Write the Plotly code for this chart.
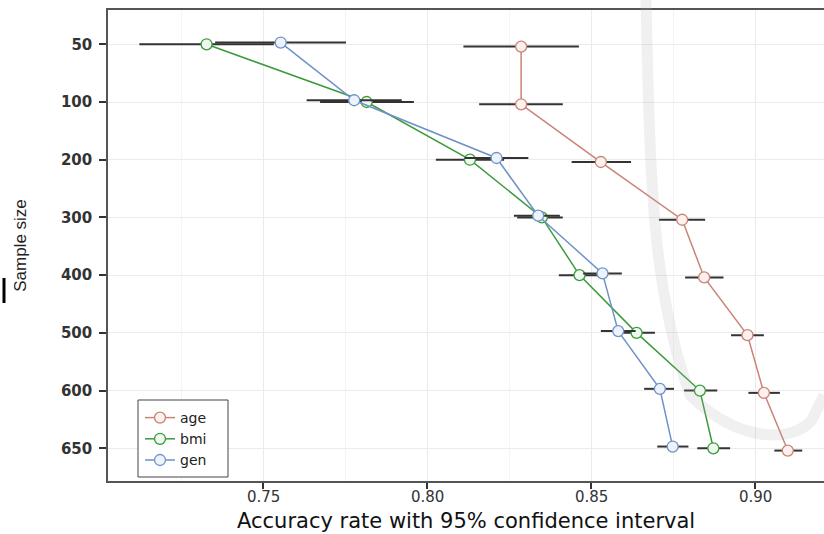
import plotly.graph_objects as go

# ---- data ----
sample_sizes = ["50", "100", "200", "300", "400", "500", "600", "650"]

age_acc = [0.8287, 0.8287, 0.8530, 0.8778, 0.8845, 0.8977, 0.9027, 0.9100]
age_lo = [0.8111, 0.8159, 0.8441, 0.8707, 0.8787, 0.8927, 0.8980, 0.9059]
age_hi = [0.8463, 0.8414, 0.8622, 0.8848, 0.8904, 0.9027, 0.9076, 0.9144]

bmi_acc = [0.7328, 0.7816, 0.8131, 0.8350, 0.8465, 0.8639, 0.8832, 0.8873]
bmi_lo = [0.7123, 0.7674, 0.8027, 0.8275, 0.8402, 0.8583, 0.8784, 0.8824]
bmi_hi = [0.7533, 0.7960, 0.8235, 0.8414, 0.8528, 0.8695, 0.8885, 0.8924]

gen_acc = [0.7554, 0.7778, 0.8212, 0.8339, 0.8535, 0.8583, 0.8710, 0.8749]
gen_lo = [0.7354, 0.7633, 0.8115, 0.8265, 0.8476, 0.8530, 0.8662, 0.8702]
gen_hi = [0.7753, 0.7923, 0.8309, 0.8405, 0.8594, 0.8636, 0.8753, 0.8797]

x_ticks = [0.75, 0.80, 0.85, 0.90]
x_tick_labels = ["0.75", "0.80", "0.85", "0.90"]

series = [
    ("age", age_acc, age_lo, age_hi, "#C98476", "#FCF1EE", 0.04),
    ("bmi", bmi_acc, bmi_lo, bmi_hi, "#3C9A3C", "#EEF8EE", 0.0),
    ("gen", gen_acc, gen_lo, gen_hi, "#6F93C8", "#EEF3FB", -0.03),
]

W, H = 824, 534
L, R, T, B = 108, 824, 10, 481


def px(x):
    return (x - L) / (R - L)


def py(y):
    return (B - y) / (B - T)


fig = go.Figure()
for name, acc, lo, hi, col, fill, dodge in series:
    ys = [i + dodge for i in range(len(sample_sizes))]
    fig.add_trace(go.Scatter(
        x=acc, y=ys, name=name, mode="lines+markers",
        line=dict(color=col, width=1.5),
        marker=dict(symbol="circle", size=11, color=fill,
                    line=dict(color=col, width=1.3)),
        error_x=dict(type="data", symmetric=False,
                     array=[h - a for h, a in zip(hi, acc)],
                     arrayminus=[a - l for a, l in zip(acc, lo)],
                     color="#333333", thickness=2, width=0),
    ))

# watermark arc (image artefact)
pts = [(646, 0), (650, 180), (652, 290), (690, 395), (735, 440), (790, 445), (812, 420), (824, 395)]
path = "M {:.4f},{:.4f} ".format(px(pts[0][0]), py(pts[0][1]))
path += "C {:.4f},{:.4f} {:.4f},{:.4f} {:.4f},{:.4f} ".format(
    px(pts[1][0]), py(pts[1][1]), px(pts[2][0]), py(pts[2][1]), px(pts[3][0]), py(pts[3][1]))
path += "C {:.4f},{:.4f} {:.4f},{:.4f} {:.4f},{:.4f} ".format(
    px(pts[4][0]), py(pts[4][1]), px(pts[5][0]), py(pts[5][1]), px(pts[6][0]), py(pts[6][1]))
path += "L {:.4f},{:.4f}".format(px(pts[7][0]), py(pts[7][1]))

shapes = [
    dict(type="path", path=path, xref="paper", yref="paper",
         line=dict(color="rgba(170,170,170,0.18)", width=11), layer="above"),
    dict(type="line", xref="paper", yref="paper",
         x0=px(4), x1=px(4), y0=py(278), y1=py(303),
         line=dict(color="black", width=3)),
    # legend frame
    dict(type="rect", xref="paper", yref="paper",
         x0=px(138), x1=px(228), y0=py(477), y1=py(400),
         line=dict(color="#444444", width=1), fillcolor="white", layer="above"),
]

annotations = [
    dict(text=lab, xref="x", yref="paper", x=val, y=py(487),
         xanchor="center", yanchor="top", showarrow=False, borderpad=0,
         font=dict(size=15, family="DejaVu Sans", color="#333333"))
    for val, lab in zip(x_ticks, x_tick_labels)
]
annotations.append(
    dict(text="Accuracy rate with 95% confidence interval", xref="paper", yref="paper",
         x=px(466), y=py(534), xanchor="center", yanchor="bottom", showarrow=False,
         borderpad=0, font=dict(size=21, family="DejaVu Sans", color="#111111")))

fig.update_layout(
    width=W, height=H,
    margin=dict(l=L, r=W - R, t=T, b=H - B, autoexpand=False),
    paper_bgcolor="white", plot_bgcolor="white",
    font=dict(family="DejaVu Sans", color="#333333"),
    showlegend=True,
    legend=dict(x=px(140), y=py(402), xanchor="left", yanchor="top",
                bgcolor="rgba(0,0,0,0)", borderwidth=0,
                font=dict(size=14, family="DejaVu Sans", color="#222222"),
                itemwidth=30, tracegroupgap=0),
    shapes=shapes,
    annotations=annotations,
    xaxis=dict(
        automargin=False,
        range=[0.75 - (263 - L) / 3280, 0.90 + (R - 755) / 3280],
        tickvals=x_ticks, showticklabels=False,
        ticks="outside", ticklen=6, tickwidth=1.5, tickcolor="#333333",
        showline=True, mirror=True, linecolor="#555555", linewidth=1.5,
        showgrid=True, gridcolor="#EBEBEB", gridwidth=1,
        minor=dict(showgrid=True, gridcolor="#F4F4F4", gridwidth=0.8, dtick=0.05, tick0=0.725),
        zeroline=False,
    ),
    yaxis=dict(
        automargin=False,
        range=[7.567, -0.594],
        tickvals=list(range(len(sample_sizes))), ticktext=sample_sizes,
        tickfont=dict(size=15, family="DejaVu Sans", color="#333333", weight="bold"),
        ticklabelstandoff=4,
        ticks="outside", ticklen=7, tickwidth=1.5, tickcolor="#333333",
        showline=True, mirror=False, linecolor="#555555", linewidth=1.5,
        showgrid=True, gridcolor="#EBEBEB", gridwidth=1,
        zeroline=False,
        title=dict(text="Sample size",
                   font=dict(size=17, family="Liberation Sans", color="#222222"), standoff=30),
    ),
)

fig.write_html("out.html", config={"displayModeBar": False},
               post_script="document.body.style.margin='0px';document.body.style.overflow='hidden';")
